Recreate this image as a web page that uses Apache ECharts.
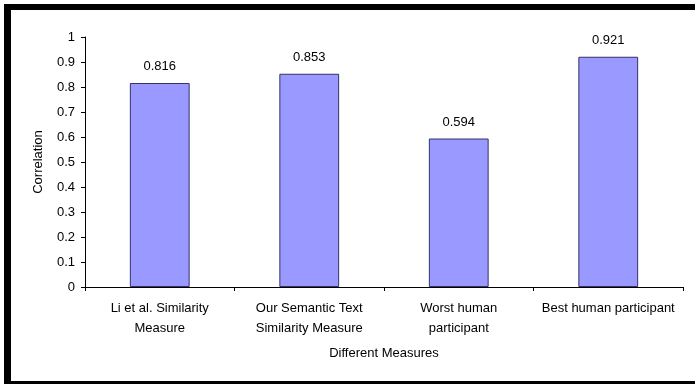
<!DOCTYPE html>
<html><head><meta charset="utf-8">
<script src="https://cdn.jsdelivr.net/npm/echarts@6/dist/echarts.min.js"></script>
<style>html,body{margin:0;padding:0;background:#fff;}#c{width:695px;height:384px;}</style>
</head><body><div id="c"></div>
<script>
var categories = ['Li et al. Similarity\nMeasure', 'Our Semantic Text\nSimilarity Measure', 'Worst human\nparticipant', 'Best human participant'];
var values = [0.816, 0.853, 0.594, 0.921];
var yTicks = [0, 0.1, 0.2, 0.3, 0.4, 0.5, 0.6, 0.7, 0.8, 0.9, 1];

var chart = echarts.init(document.getElementById('c'), null, {renderer: 'canvas'});
var font = 'Arial, "Liberation Sans", sans-serif';
chart.setOption({
  animation: false,
  graphic: [
    {type: 'rect', shape: {x: 4, y: 4, width: 700, height: 6}, style: {fill: '#000'}},
    {type: 'rect', shape: {x: 4, y: 4, width: 7, height: 380}, style: {fill: '#000'}},
    {type: 'rect', shape: {x: 4, y: 381, width: 700, height: 4}, style: {fill: '#000'}}
  ],
  grid: {left: 85, right: 12, top: 37, bottom: 97, containLabel: false},
  xAxis: {
    type: 'category',
    data: categories,
    name: 'Different Measures',
    nameLocation: 'middle',
    nameGap: 60,
    nameTextStyle: {fontFamily: font, fontSize: 13, color: '#000'},
    axisLine: {lineStyle: {color: '#000', width: 1}},
    axisTick: {show: true, alignWithLabel: false, length: 4, lineStyle: {color: '#000'}},
    axisLabel: {fontFamily: font, fontSize: 13, color: '#000', margin: 11, lineHeight: 20, interval: 0}
  },
  yAxis: {
    type: 'value',
    min: 0, max: 1, interval: 0.1,
    name: 'Correlation',
    nameLocation: 'middle',
    nameGap: 40,
    nameTextStyle: {fontFamily: font, fontSize: 13, color: '#000'},
    axisLine: {show: true, lineStyle: {color: '#000', width: 1}},
    axisTick: {show: true, length: 4, lineStyle: {color: '#000'}},
    splitLine: {show: false},
    axisLabel: {fontFamily: font, fontSize: 13, color: '#000', margin: 10,
      formatter: function (v) { var r = Math.round(v * 10) / 10; return yTicks.indexOf(r) >= 0 ? String(r) : ''; }}
  },
  series: [{
    type: 'bar',
    data: values,
    barWidth: '40%',
    itemStyle: {color: '#9999FF', borderColor: '#333366', borderWidth: 1},
    label: {show: true, position: 'top', distance: 10, fontFamily: font, fontSize: 13, color: '#000',
      formatter: function (p) { return p.value.toFixed(3); }}
  }]
});
</script></body></html>
